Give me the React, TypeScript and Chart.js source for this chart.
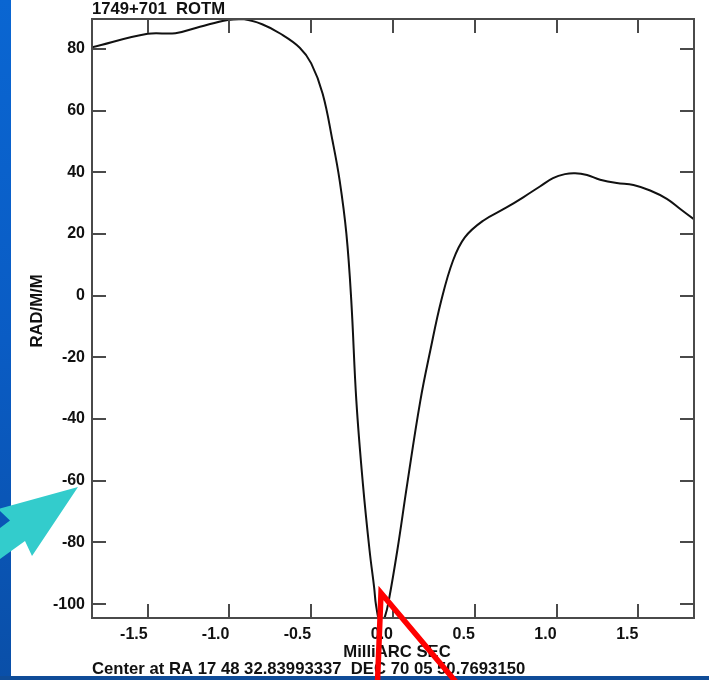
import React, { useEffect, useRef } from 'react';
import { Chart, registerables } from 'chart.js';

Chart.register(...registerables);

// ---- data ----
const X_VALUES = [
  -1.84, -1.5, -1.33, -1.18, -1.01, -0.91, -0.8, -0.69, -0.57, -0.5, -0.43, -0.37,
  -0.326, -0.285, -0.255, -0.224, -0.184, -0.143, -0.115, -0.103, -0.075, -0.048,
  -0.026, 0.026, 0.087, 0.167, 0.228, 0.295, 0.367, 0.439, 0.551, 0.694, 0.796,
  0.898, 0.978, 1.051, 1.113, 1.186, 1.266, 1.368, 1.47, 1.572, 1.674, 1.756, 1.837,
];
const Y_VALUES = [
  80.5, 84.9, 85.1, 87.2, 89.4, 89.6, 88.0, 85.0, 80.4, 75.3, 65.5, 50.3,
  37.3, 20.1, -1.6, -34.1, -61.0, -82.7, -94.7, -100.6, -106.7, -103.8,
  -98.9, -82.7, -61.0, -34.1, -17.8, -1.6, 11.4, 18.9, 24.3, 28.6, 31.9,
  35.4, 38.1, 39.4, 39.7, 39.1, 37.6, 36.5, 35.9, 34.1, 31.4, 28.1, 24.9,
];
const X_TICKS = [-1.5, -1.0, -0.5, 0.0, 0.5, 1.0, 1.5];
const X_TICK_LABELS = ['-1.5', '-1.0', '-0.5', '0.0', '0.5', '1.0', '1.5'];
const Y_TICKS = [-100, -80, -60, -40, -20, 0, 20, 40, 60, 80];
const Y_TICK_LABELS = ['-100', '-80', '-60', '-40', '-20', '0', '20', '40', '60', '80'];
const X_RANGE = [-1.84, 1.84];
const Y_RANGE = [-104.5, 89.7];

const TITLE = '1749+701  ROTM';
const X_TITLE = 'MilliARC SEC';
const Y_TITLE = 'RAD/M/M';
const FOOTER = 'Center at RA 17 48 32.83993337  DEC 70 05 50.7693150';

const FONT_FAMILY = '"Liberation Sans", Arial, sans-serif';
const TEXT_COLOR = '#111111';
const FRAME_COLOR = '#4a4a4a';

const decorPlugin = {
  id: 'decor',
  beforeDraw(chart: any) {
    const { ctx, width, height } = chart;
    ctx.save();
    ctx.fillStyle = '#ffffff';
    ctx.fillRect(0, 0, width, height);
    // slide background strips
    const g = ctx.createLinearGradient(0, 0, 0, height);
    g.addColorStop(0, '#0a66d2');
    g.addColorStop(0.5, '#0a5cc4');
    g.addColorStop(1, '#0a4fa8');
    ctx.fillStyle = g;
    ctx.fillRect(0, 0, 11, height);
    ctx.fillStyle = '#0f4c98';
    ctx.fillRect(0, 676, width, height - 676);
    ctx.restore();
  },
  afterDraw(chart: any) {
    const { ctx, chartArea } = chart;
    const xs = chart.scales.x;
    const ys = chart.scales.y;
    const { left, right, top, bottom } = chartArea;
    ctx.save();
    // frame
    ctx.strokeStyle = FRAME_COLOR;
    ctx.lineWidth = 2;
    ctx.strokeRect(left, top, right - left, bottom - top);
    // inward tick marks on all four sides
    const TL = 14;
    ctx.beginPath();
    X_TICKS.forEach((v) => {
      const px = Math.round(xs.getPixelForValue(v));
      ctx.moveTo(px, bottom);
      ctx.lineTo(px, bottom - TL);
      ctx.moveTo(px, top);
      ctx.lineTo(px, top + TL);
    });
    Y_TICKS.forEach((v) => {
      const py = Math.round(ys.getPixelForValue(v));
      ctx.moveTo(left, py);
      ctx.lineTo(left + TL, py);
      ctx.moveTo(right, py);
      ctx.lineTo(right - TL, py);
    });
    ctx.stroke();

    // texts
    ctx.fillStyle = TEXT_COLOR;
    ctx.font = `bold 16.7px ${FONT_FAMILY}`;
    ctx.textBaseline = 'alphabetic';
    ctx.textAlign = 'left';
    ctx.fillText(TITLE, left, 13.5);
    ctx.fillText(FOOTER, left, 673.5);
    ctx.textAlign = 'center';
    ctx.fillText(X_TITLE, 397, 657);
    ctx.save();
    ctx.translate(41.7, 311);
    ctx.rotate(-Math.PI / 2);
    ctx.fillText(Y_TITLE, 0, 0);
    ctx.restore();

    // cyan annotation arrow
    ctx.fillStyle = '#33cccc';
    ctx.beginPath();
    ctx.moveTo(78, 487);
    ctx.lineTo(32, 556);
    ctx.lineTo(25, 541);
    ctx.lineTo(0, 559);
    ctx.lineTo(0, 528);
    ctx.lineTo(10, 520.5);
    ctx.lineTo(-2, 509);
    ctx.closePath();
    ctx.fill();

    // red annotation arrow
    ctx.strokeStyle = '#ff0000';
    ctx.lineWidth = 5.5;
    ctx.lineJoin = 'miter';
    ctx.beginPath();
    ctx.moveTo(377.5, 682);
    ctx.lineTo(381, 593);
    ctx.lineTo(456, 682);
    ctx.stroke();
    ctx.restore();
  },
};

export default function App() {
  const canvasRef = useRef<HTMLCanvasElement | null>(null);

  useEffect(() => {
    const canvas = canvasRef.current;
    if (!canvas) return;
    const points = X_VALUES.map((x, i) => ({ x, y: Y_VALUES[i] }));
    const tickFont = { family: FONT_FAMILY, weight: 'bold' as const, size: 16 };
    const chart = new Chart(canvas, {
      type: 'line',
      data: {
        datasets: [
          {
            label: 'ROTM',
            data: points,
            borderColor: '#111111',
            borderWidth: 2,
            pointRadius: 0,
            fill: false,
            tension: 0.4,
          },
        ],
      },
      options: {
        responsive: false,
        animation: false,
        devicePixelRatio: 1,
        layout: { padding: { left: 0, right: 15, top: 19, bottom: 0 } },
        plugins: {
          legend: { display: false },
          tooltip: { enabled: false },
          title: { display: false },
        },
        scales: {
          x: {
            type: 'linear',
            min: X_RANGE[0],
            max: X_RANGE[1],
            grid: { display: false, drawTicks: false },
            border: { display: false },
            afterBuildTicks: (scale: any) => {
              scale.ticks = X_TICKS.map((v) => ({ value: v }));
            },
            afterFit: (scale: any) => {
              scale.height = 62;
            },
            ticks: {
              autoSkip: false,
              maxRotation: 0,
              align: 'end',
              padding: 7,
              color: TEXT_COLOR,
              font: tickFont,
              callback: (value: any) => {
                const i = X_TICKS.indexOf(Number(value));
                return i >= 0 ? X_TICK_LABELS[i] : '';
              },
            },
          },
          y: {
            type: 'linear',
            min: Y_RANGE[0],
            max: Y_RANGE[1],
            grid: { display: false, drawTicks: false },
            border: { display: false },
            afterBuildTicks: (scale: any) => {
              scale.ticks = Y_TICKS.map((v) => ({ value: v }));
            },
            afterFit: (scale: any) => {
              scale.width = 92;
            },
            ticks: {
              autoSkip: false,
              padding: 7,
              color: TEXT_COLOR,
              font: tickFont,
              callback: (value: any) => {
                const i = Y_TICKS.indexOf(Number(value));
                return i >= 0 ? Y_TICK_LABELS[i] : '';
              },
            },
          },
        },
      },
      plugins: [decorPlugin],
    });
    return () => chart.destroy();
  }, []);

  return (
    <div style={{ position: 'fixed', left: 0, top: 0, width: 709, height: 680 }}>
      <canvas ref={canvasRef} width={709} height={680} style={{ width: 709, height: 680, display: 'block' }} />
    </div>
  );
}
